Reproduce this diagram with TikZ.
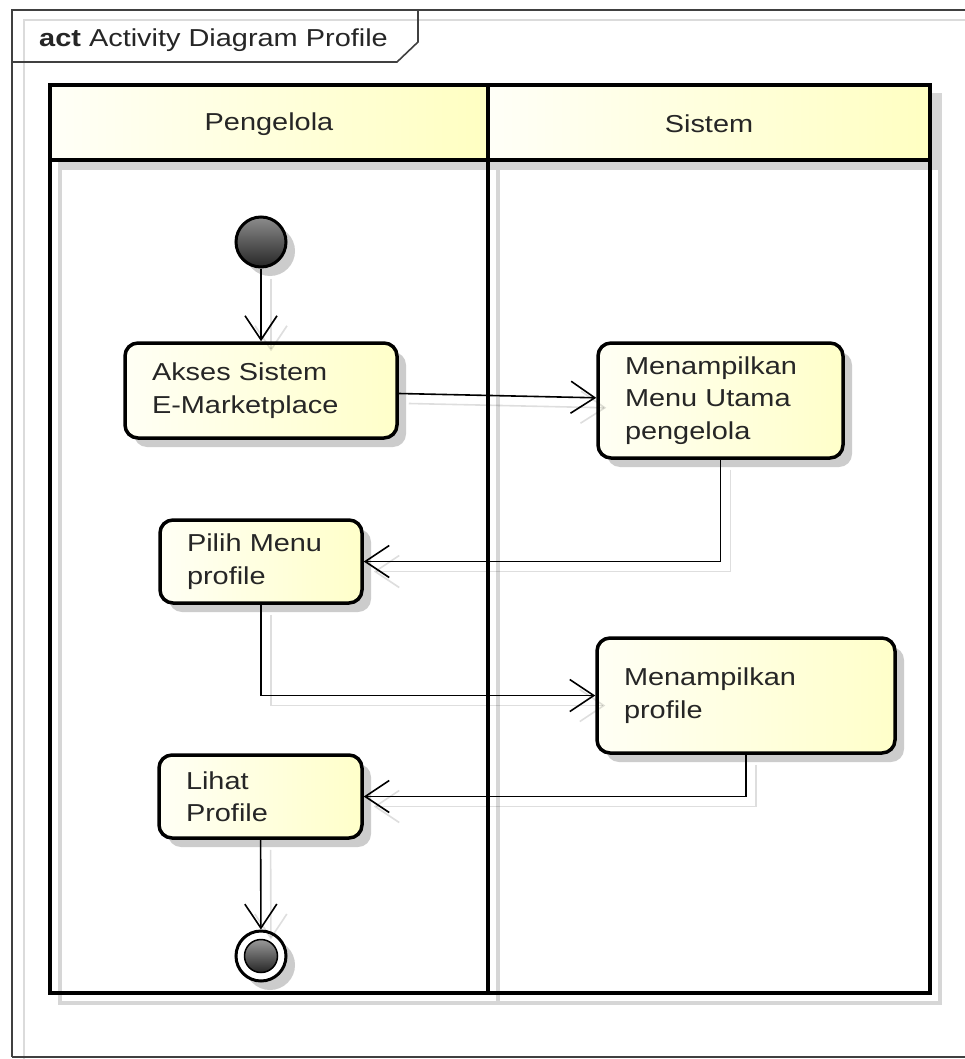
\documentclass[tikz,border=0pt]{standalone}
\usepackage{fontspec}
\setmainfont[FakeStretch=1.18]{Liberation Sans}
\usetikzlibrary{arrows.meta,shadows}

\newcommand\actfont{\fontsize{24.5pt}{32.5pt}\selectfont}

\tikzset{
  softshadow/.style={drop shadow={shadow xshift=9pt, shadow yshift=-9pt, fill=black!20, opacity=1}},
  actbox/.style={draw=black, line width=3.5pt, rounded corners=13pt,
    left color=yellow!4, right color=yellow!21, align=left, text=black!85,
    inner xsep=27pt, inner ysep=0pt, font=\actfont, softshadow},
  flow/.style={line width=1.6pt, draw=black,
    -{Straight Barb[length=24pt, width=32pt, line width=1.6pt]}},
  flowshadow/.style={flow, draw=black, opacity=0.13,
    transform canvas={xshift=10pt, yshift=-10pt}},
  lane/.style={draw=black, line width=4pt},
  laneshadow/.style={draw=black!16, line width=3.5pt},
  headfill/.style={left color=yellow!3, right color=yellow!24},
  frameline/.style={draw=black!75, line width=1.6pt},
}

\begin{document}
\begin{tikzpicture}[x=1pt, y=-1pt, font=\actfont, text=black!85]
  \useasboundingbox (0,0) rectangle (965,1059);
  \fill[white] (0,0) rectangle (965,1059);
  \clip (0,0) rectangle (965,1059);

  % diagram frame with its faint inner edge and the name tab
  \draw[draw=black!14, line width=1.5pt] (24,1070) -- (24,20) -- (980,20);
  \draw[frameline] (12,1057) -- (12,10) -- (980,10);
  \draw[frameline] (12,1057) -- (980,1057);
  \draw[frameline] (12,62) -- (397,62) -- (418,42) -- (418,10);
  \node[anchor=base west, inner sep=0pt] (title) at (39,47)
    {\textbf{act} Activity Diagram Profile};

  % swimlane shadows
  \fill[black!16] (60,95) rectangle (498,170);
  \fill[black!16] (498,95) rectangle (940,170);
  \draw[laneshadow] (60,95) rectangle (498,1003);
  \draw[laneshadow] (498,95) rectangle (940,1003);

  % swimlane headers
  \fill[headfill] (50,85) rectangle (488,160);
  \fill[headfill] (488,85) rectangle (930,160);
  \node (hpeng) at (269,124) {Pengelola};
  \node (hsis) at (709,124) {Sistem};

  % swimlane borders
  \draw[lane] (50,85) rectangle (930,993);
  \draw[lane] (488,85) -- (488,993);
  \draw[lane] (50,160) -- (930,160);

  % initial node
  \node[circle, draw=black, line width=3pt, minimum size=50pt, inner sep=0pt,
        top color=black!45, bottom color=black!85, softshadow] (start) at (261,242) {};

  % actions
  \node[actbox, minimum width=272pt, text width=218pt, minimum height=95pt]
    (akses) at (261,390.5) {Akses Sistem\\E-Marketplace};
  \node[actbox, minimum width=245pt, text width=191pt, minimum height=115pt]
    (menu) at (720.5,400.5) {Menampilkan\\Menu Utama\\pengelola};
  \node[actbox, minimum width=202pt, text width=148pt, minimum height=83pt]
    (pilih) at (261,561.5) {Pilih Menu\\profile};
  \node[actbox, minimum width=298pt, text width=244pt, minimum height=115pt]
    (mprof) at (746,695.5) {Menampilkan\\profile};
  \node[actbox, minimum width=203pt, text width=149pt, minimum height=83pt]
    (lihat) at (260.5,796.5) {Lihat\\Profile};

  % final node
  \node[circle, draw=black, line width=3pt, minimum size=50pt, inner sep=0pt,
        fill=white, softshadow] (final) at (261,956) {};
  \node[circle, draw=black, line width=1.5pt, minimum size=33pt, inner sep=0pt,
        top color=black!40, bottom color=black!85] (finalcore) at (final.center) {};

  % control flow shadows
  \draw[flowshadow] (start) -- (akses);
  \draw[flowshadow] (akses) -- (menu);
  \draw[flowshadow] (menu.south) |- (pilih.east);
  \draw[flowshadow] (pilih.south) |- (mprof.west);
  \draw[flowshadow] (mprof.south) |- (lihat.east);
  \draw[flowshadow] (lihat) -- (final);

  % control flows
  \draw[flow] (start) -- (akses);
  \draw[flow] (akses) -- (menu);
  \draw[flow] (menu.south) |- (pilih.east);
  \draw[flow] (pilih.south) |- (mprof.west);
  \draw[flow] (mprof.south) |- (lihat.east);
  \draw[flow] (lihat) -- (final);
\end{tikzpicture}
\end{document}
